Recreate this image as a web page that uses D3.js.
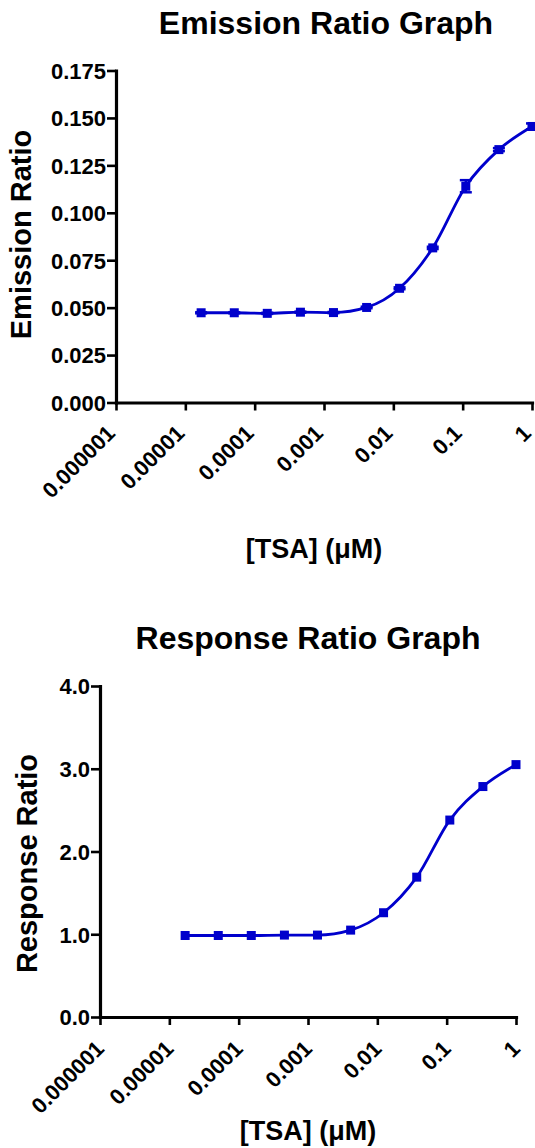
<!DOCTYPE html>
<html>
<head>
<meta charset="utf-8">
<script src="https://cdn.jsdelivr.net/npm/d3@7"></script>
<style>
  body { margin: 0; background: white; }
  text { font-family: "Liberation Sans", Arial, sans-serif; font-weight: bold; fill: black; }
</style>
</head>
<body>
<div class="charts"></div>
<script>

// TSA concentrations (uM), 3-fold dilutions
const conc = [0.0000169, 0.0000508, 0.000152, 0.000457, 0.00137, 0.00412, 0.0123, 0.037, 0.111, 0.333, 1];

const emission = [0.0473, 0.0473, 0.0470, 0.0476, 0.0474, 0.0501, 0.0602, 0.0815, 0.1140, 0.1333, 0.1455];
const emissionErr = [0.0003, 0.0003, 0.0003, 0.0003, 0.0003, 0.0004, 0.0005, 0.0006, 0.0032, 0.0008, 0.0016];

const response = [0.985, 0.985, 0.985, 0.99, 0.99, 1.05, 1.26, 1.69, 2.38, 2.785, 3.05];

const xTicks = [0.000001, 0.00001, 0.0001, 0.001, 0.01, 0.1, 1];
const xTickLabels = ["0.000001", "0.00001", "0.0001", "0.001", "0.01", "0.1", "1"];

const emissionTicks = [0, 0.025, 0.05, 0.075, 0.1, 0.125, 0.15, 0.175];
const responseTicks = [0, 1, 2, 3, 4];

const w = 535;
const h = 1148;
const blue = "#0000cc";

const svg = d3.select(".charts")
              .append("svg")
              .attr("width", w)
              .attr("height", h)
              .style("background-color", "white");

const drawGraph = function(opt){

  const x = d3.scaleLog().domain([0.000001, 1]).range([opt.left, opt.right]);
  const y = d3.scaleLinear().domain(opt.yDomain).range([opt.bottom, opt.top]);
  const g = svg.append("g");

  // title
  g.append("text")
   .attr("x", (opt.left + opt.right) / 2 + opt.titleDx)
   .attr("y", opt.titleY)
   .attr("text-anchor", "middle")
   .style("font-size", "32px")
   .text(opt.title);

  // y axis
  const yAxis = g.append("g")
   .attr("transform", "translate(" + opt.left + ",0)")
   .call(d3.axisLeft(y).tickValues(opt.yTicks).tickFormat(d3.format(opt.yFormat))
          .tickSize(9).tickSizeOuter(0).tickPadding(1));

  // x axis
  const xAxis = g.append("g")
   .attr("transform", "translate(0," + opt.bottom + ")")
   .call(d3.axisBottom(x).tickValues(xTicks).tickFormat(function(d, i){ return xTickLabels[i]; })
          .tickSize(8).tickSizeOuter(0));

  [yAxis, xAxis].forEach(function(a){
    a.select(".domain").attr("stroke", "black").attr("stroke-width", 3.2).attr("stroke-linecap", "square");
    a.selectAll(".tick line").attr("stroke", "black").attr("stroke-width", 2.6);
    a.selectAll(".tick text").style("font-size", "22px").attr("fill", "black");
  });
  yAxis.selectAll(".tick text").attr("dy", "0.36em");

  xAxis.selectAll(".tick text")
       .attr("x", 0).attr("y", 0).attr("dy", 0)
       .attr("text-anchor", "end")
       .attr("transform", "translate(" + opt.xLabelDx + "," + opt.xLabelDy + ") rotate(-45)");

  // axis titles
  g.append("text")
   .attr("transform", "translate(" + opt.yTitleX + "," + ((opt.top + opt.bottom) / 2 + opt.yTitleDy) + ") rotate(-90)")
   .attr("text-anchor", "middle")
   .style("font-size", "29px")
   .text(opt.yTitle);

  g.append("text")
   .attr("x", (opt.left + opt.right) / 2 + opt.xTitleDx)
   .attr("y", opt.xTitleY)
   .attr("text-anchor", "middle")
   .style("font-size", "27px")
   .text("[TSA] (\u03bcM)");

  // fitted curve through the points
  const line = d3.line()
    .x(function(d, i){ return x(conc[i]); })
    .y(function(d){ return y(d); })
    .curve(d3.curveMonotoneX);

  g.append("path")
   .datum(opt.values)
   .attr("d", line)
   .attr("fill", "none")
   .attr("stroke", blue)
   .attr("stroke-width", 2.8);

  // error bars
  if (opt.errors) {
    const eb = g.selectAll(".err")
      .data(opt.values)
      .enter()
      .append("g")
      .attr("class", "err");
    eb.append("line")
      .attr("x1", function(d, i){ return x(conc[i]); })
      .attr("x2", function(d, i){ return x(conc[i]); })
      .attr("y1", function(d, i){ return y(d - opt.errors[i]); })
      .attr("y2", function(d, i){ return y(d + opt.errors[i]); })
      .attr("stroke", blue).attr("stroke-width", 2.5);
    [-1, 1].forEach(function(s){
      eb.append("line")
        .attr("x1", function(d, i){ return x(conc[i]) - 6; })
        .attr("x2", function(d, i){ return x(conc[i]) + 6; })
        .attr("y1", function(d, i){ return y(d + s * opt.errors[i]); })
        .attr("y2", function(d, i){ return y(d + s * opt.errors[i]); })
        .attr("stroke", blue).attr("stroke-width", 2.5);
    });
  }

  // square markers
  const m = 9;
  g.selectAll(".pt")
   .data(opt.values)
   .enter()
   .append("rect")
   .attr("class", "pt")
   .attr("x", function(d, i){ return x(conc[i]) - m / 2; })
   .attr("y", function(d){ return y(d) - m / 2; })
   .attr("width", m)
   .attr("height", m)
   .attr("fill", blue);
};

drawGraph({
  title: "Emission Ratio Graph", titleY: 34, titleDx: 2,
  left: 116, right: 532, top: 70.5, bottom: 402.5,
  yDomain: [0, 0.175], yTicks: emissionTicks, yFormat: ".3f",
  yTitle: "Emission Ratio", yTitleX: 31, yTitleDy: -2,
  xTitleY: 558, xTitleDx: -10, xLabelDx: 0, xLabelDy: 32,
  values: emission, errors: emissionErr
});

drawGraph({
  title: "Response Ratio Graph", titleY: 649, titleDx: 0,
  left: 100, right: 516, top: 686, bottom: 1017,
  yDomain: [0, 4], yTicks: responseTicks, yFormat: ".1f",
  yTitle: "Response Ratio", yTitleX: 37, yTitleDy: 12,
  xTitleY: 1140, xTitleDx: 0, xLabelDx: 5, xLabelDy: 33,
  values: response, errors: null
});

</script>
</body>
</html>
